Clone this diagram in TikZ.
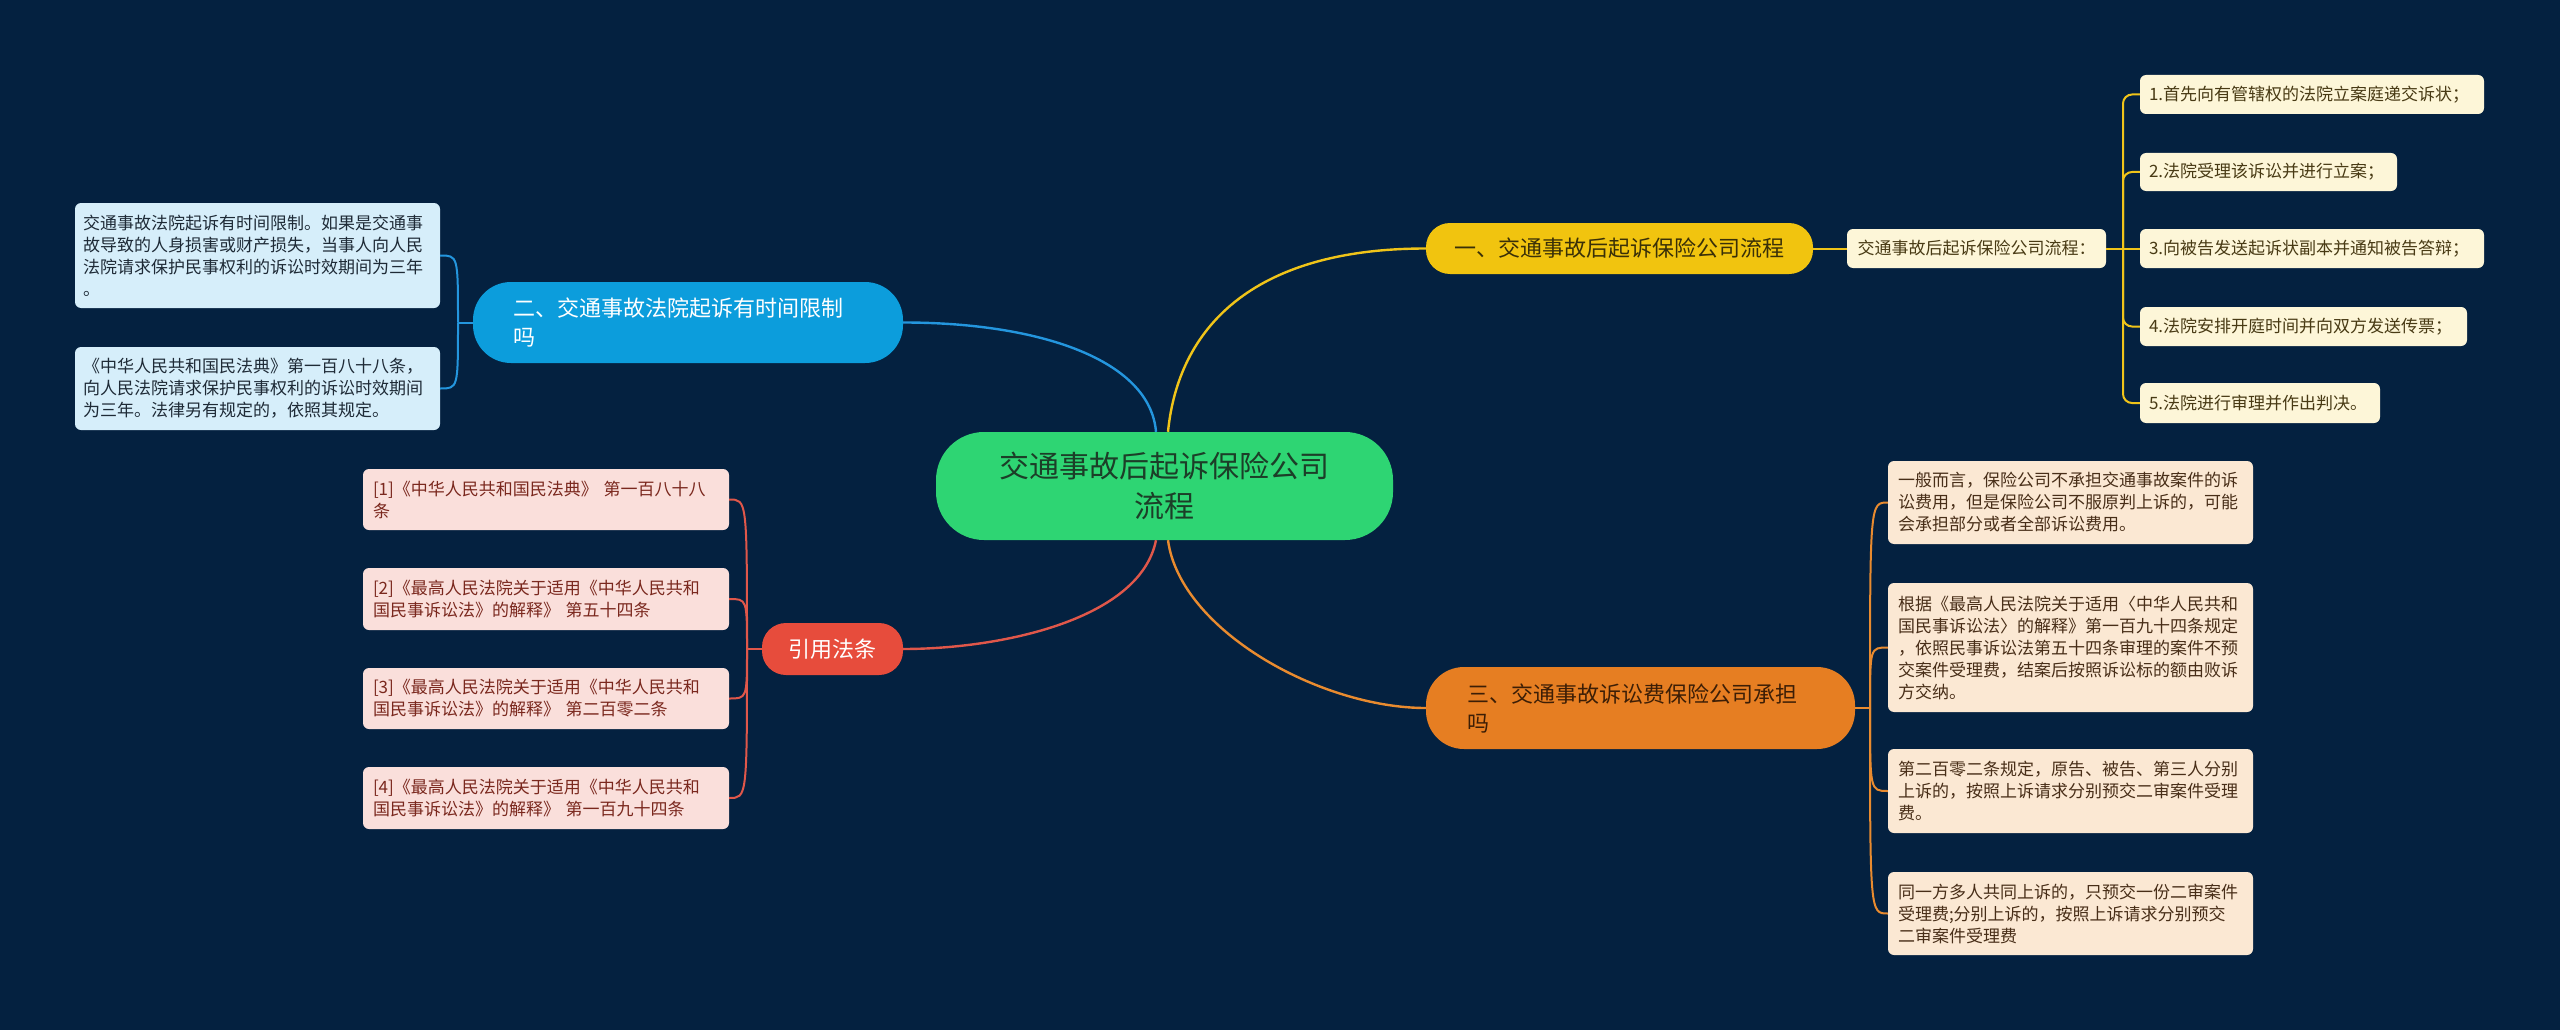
\documentclass[tikz,border=0pt]{standalone}
\usepackage{fontspec}
\setmainfont{Noto Sans CJK SC}
\definecolor{bg}{RGB}{4,33,64}
\definecolor{cgreen}{RGB}{46,213,115}
\definecolor{ctext}{RGB}{28,62,40}
\definecolor{bmain}{RGB}{12,157,220}
\definecolor{bline}{RGB}{36,150,222}
\definecolor{bleaf}{RGB}{214,238,250}
\definecolor{bltext}{RGB}{30,42,54}
\definecolor{ymain}{RGB}{241,196,15}
\definecolor{yline}{RGB}{240,196,25}
\definecolor{ytext}{RGB}{58,48,8}
\definecolor{yleaf}{RGB}{253,246,216}
\definecolor{yltext}{RGB}{72,58,20}
\definecolor{omain}{RGB}{230,126,34}
\definecolor{oline}{RGB}{233,139,47}
\definecolor{otext}{RGB}{60,30,6}
\definecolor{oleaf}{RGB}{251,232,211}
\definecolor{oltext}{RGB}{72,46,24}
\definecolor{rmain}{RGB}{231,76,60}
\definecolor{rline}{RGB}{224,87,74}
\definecolor{rleaf}{RGB}{250,223,219}
\definecolor{rltext}{RGB}{122,40,30}
\tikzset{
  mainnode/.style={inner ysep=0pt, font=\fontsize{22pt}{29pt}\selectfont},
  leafnode/.style={inner ysep=0pt, inner xsep=9pt, rounded corners=6pt, align=left,
     font=\fontsize{17pt}{22pt}\selectfont},
  conn/.style={line width=2.4pt},
  brk/.style={line width=2pt},
}
\begin{document}
\begin{tikzpicture}[x=1pt,y=-1pt]
\fill[bg] (0,0) rectangle (2560,1030);
\useasboundingbox (0,0) rectangle (2560,1030);

% central node
\node[fill=cgreen, text=ctext, rounded corners=48pt, minimum width=457pt, minimum height=108pt,
  align=center, inner ysep=0pt, font=\fontsize{30pt}{40pt}\selectfont] (C) at (1164.5,486)
  {交通事故后起诉保险公司\\流程};

% main branches
\node[mainnode, fill=bmain, text=white, rounded corners=38pt, minimum height=81pt,
  inner xsep=40pt, text width=350pt, align=left] (B) at (688,322.5)
  {二、交通事故法院起诉有时间限制\\吗};
\node[mainnode, fill=rmain, text=white, rounded corners=24pt, minimum height=52pt,
  minimum width=141pt, align=center] (R) at (832.5,649) {引用法条};
\node[mainnode, fill=ymain, text=ytext, rounded corners=24pt, minimum height=51pt,
  minimum width=387pt, align=center] (Y) at (1619.5,248.5) {一、交通事故后起诉保险公司流程};
\node[mainnode, fill=omain, text=otext, rounded corners=38pt, minimum height=82pt,
  inner xsep=41pt, text width=347pt, align=left] (O) at (1640.5,708)
  {三、交通事故诉讼费保险公司承担\\吗};

% main connectors
\draw[conn, bline] ([xshift=-8.5pt]C.north) .. controls (1150,360) and (1040,322.5) .. (B.east);
\draw[conn, yline] ([xshift=3.5pt]C.north) .. controls (1178,330) and (1250,248.5) .. (Y.west);
\draw[conn, rline] ([xshift=-8.5pt]C.south) .. controls (1140,620) and (1000,649) .. (R.east);
\draw[conn, oline] ([xshift=3.5pt]C.south) .. controls (1180,630) and (1320,708) .. (O.west);

% blue leaves
\node[leafnode, fill=bleaf, text=bltext, inner xsep=8pt, text width=349pt, minimum height=105pt] (BL1) at (257.5,255.5)
  {交通事故法院起诉有时间限制。如果是交通事\\故导致的人身损害或财产损失，当事人向人民\\法院请求保护民事权利的诉讼时效期间为三年\\。};
\node[leafnode, fill=bleaf, text=bltext, inner xsep=8pt, text width=349pt, minimum height=83pt] (BL2) at (257.5,388.5)
  {《中华人民共和国民法典》第一百八十八条，\\向人民法院请求保护民事权利的诉讼时效期间\\为三年。法律另有规定的，依照其规定。};
\coordinate (bj) at (458,322.5);
\draw[brk, bline] (B.west) -- (bj);
\draw[brk, bline] (bj) .. controls (458,255.5) .. (BL1.east);
\draw[brk, bline] (bj) .. controls (458,388.5) .. (BL2.east);

% red leaves
\node[leafnode, fill=rleaf, text=rltext, inner xsep=10pt, text width=346pt, minimum height=61pt] (RL1) at (546,499.5)
  {[1]《中华人民共和国民法典》~第一百八十八\\条};
\node[leafnode, fill=rleaf, text=rltext, inner xsep=10pt, text width=346pt, minimum height=62pt] (RL2) at (546,599)
  {[2]《最高人民法院关于适用《中华人民共和\\国民事诉讼法》的解释》~第五十四条};
\node[leafnode, fill=rleaf, text=rltext, inner xsep=10pt, text width=346pt, minimum height=61pt] (RL3) at (546,698.5)
  {[3]《最高人民法院关于适用《中华人民共和\\国民事诉讼法》的解释》~第二百零二条};
\node[leafnode, fill=rleaf, text=rltext, inner xsep=10pt, text width=346pt, minimum height=62pt] (RL4) at (546,798)
  {[4]《最高人民法院关于适用《中华人民共和\\国民事诉讼法》的解释》~第一百九十四条};
\coordinate (rj) at (747,649);
\draw[brk, rline] (R.west) -- (rj);
\draw[brk, rline] (rj) .. controls (747,499.5) .. (RL1.east);
\draw[brk, rline] (rj) .. controls (747,599) .. (RL2.east);
\draw[brk, rline] (rj) .. controls (747,698.5) .. (RL3.east);
\draw[brk, rline] (rj) .. controls (747,798) .. (RL4.east);

% yellow sub-branch
\node[leafnode, fill=yleaf, text=yltext, align=center, minimum width=259pt, minimum height=39pt] (YM) at (1976.5,248.5)
  {交通事故后起诉保险公司流程：};
\draw[brk, yline] (Y.east) -- (YM.west);
\node[leafnode, fill=yleaf, text=yltext, text width=326pt, minimum height=39pt] (YL1) at (2312,94.5)
  {1.首先向有管辖权的法院立案庭递交诉状；};
\node[leafnode, fill=yleaf, text=yltext, text width=239pt, minimum height=38pt] (YL2) at (2268.5,172)
  {2.法院受理该诉讼并进行立案；};
\node[leafnode, fill=yleaf, text=yltext, text width=326pt, minimum height=39pt] (YL3) at (2312,248.5)
  {3.向被告发送起诉状副本并通知被告答辩；};
\node[leafnode, fill=yleaf, text=yltext, text width=309pt, minimum height=39pt] (YL4) at (2303.5,326.5)
  {4.法院安排开庭时间并向双方发送传票；};
\node[leafnode, fill=yleaf, text=yltext, text width=222pt, minimum height=40pt] (YL5) at (2260,403)
  {5.法院进行审理并作出判决。};
\coordinate (yj) at (2123,248.5);
\draw[brk, yline] (YM.east) -- (YL3.west);
\draw[brk, yline, rounded corners=9pt] (yj) |- (YL1.west);
\draw[brk, yline, rounded corners=9pt] (yj) |- (YL2.west);
\draw[brk, yline, rounded corners=9pt] (yj) |- (YL4.west);
\draw[brk, yline, rounded corners=9pt] (yj) |- (YL5.west);

% orange leaves
\node[leafnode, fill=oleaf, text=oltext, inner xsep=10pt, text width=345pt, minimum height=83pt] (OL1) at (2070.5,502.5)
  {一般而言，保险公司不承担交通事故案件的诉\\讼费用，但是保险公司不服原判上诉的，可能\\会承担部分或者全部诉讼费用。};
\node[leafnode, fill=oleaf, text=oltext, inner xsep=10pt, text width=345pt, minimum height=129pt] (OL2) at (2070.5,647.5)
  {根据《最高人民法院关于适用〈中华人民共和\\国民事诉讼法〉的解释》第一百九十四条规定\\，依照民事诉讼法第五十四条审理的案件不预\\交案件受理费，结案后按照诉讼标的额由败诉\\方交纳。};
\node[leafnode, fill=oleaf, text=oltext, inner xsep=10pt, text width=345pt, minimum height=84pt] (OL3) at (2070.5,791)
  {第二百零二条规定，原告、被告、第三人分别\\上诉的，按照上诉请求分别预交二审案件受理\\费。};
\node[leafnode, fill=oleaf, text=oltext, inner xsep=10pt, text width=345pt, minimum height=83pt] (OL4) at (2070.5,913.5)
  {同一方多人共同上诉的，只预交一份二审案件\\受理费;分别上诉的，按照上诉请求分别预交\\二审案件受理费};
\coordinate (oj) at (1870,708);
\draw[brk, oline] (O.east) -- (oj);
\draw[brk, oline] (oj) .. controls (1870,502.5) .. (OL1.west);
\draw[brk, oline] (oj) .. controls (1870,647.5) .. (OL2.west);
\draw[brk, oline] (oj) .. controls (1870,791) .. (OL3.west);
\draw[brk, oline] (oj) .. controls (1870,913.5) .. (OL4.west);
\end{tikzpicture}
\end{document}
